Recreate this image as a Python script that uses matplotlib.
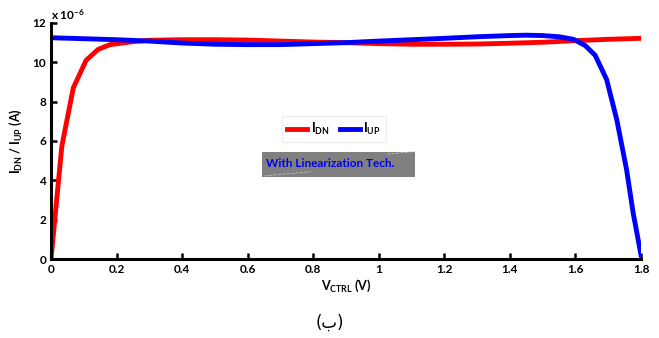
import matplotlib
matplotlib.use("Agg")
import matplotlib.pyplot as plt
from matplotlib.patches import Rectangle

plt.rcParams['font.family'] = ['Lato', 'DejaVu Sans']
plt.rcParams['font.weight'] = 'bold'
plt.rcParams['mathtext.fontset'] = 'custom'
plt.rcParams['mathtext.rm'] = 'Lato:weight=bold'
plt.rcParams['mathtext.it'] = 'Lato:weight=bold'
plt.rcParams['mathtext.bf'] = 'Lato:weight=bold'

# data (units of 1e-6 A)
v_dn = [0.0, 0.033, 0.068, 0.107, 0.144, 0.18, 0.25, 0.3, 0.4, 0.5, 0.6, 0.7, 0.8, 0.9,
        1.0, 1.1, 1.2, 1.3, 1.4, 1.5, 1.6, 1.7, 1.8]
i_dn = [0.0, 5.73, 8.7, 10.1, 10.66, 10.9, 11.05, 11.12, 11.15, 11.15, 11.13, 11.08, 11.03, 11.0,
        10.95, 10.92, 10.92, 10.93, 10.97, 11.02, 11.1, 11.17, 11.22]
v_up = [0.0, 0.1, 0.2, 0.3, 0.4, 0.5, 0.6, 0.7, 0.8, 0.9, 1.0, 1.1, 1.2, 1.3, 1.4, 1.45,
        1.5, 1.55, 1.594, 1.63, 1.66, 1.695, 1.726, 1.756, 1.776, 1.8]
i_up = [11.25, 11.2, 11.15, 11.08, 10.98, 10.92, 10.9, 10.9, 10.95, 11.0, 11.08, 11.15, 11.22,
        11.3, 11.36, 11.38, 11.36, 11.3, 11.17, 10.85, 10.36, 9.13, 7.09, 4.54, 2.35, 0.2]
xticks = [0, 0.2, 0.4, 0.6, 0.8, 1, 1.2, 1.4, 1.6, 1.8]
xticklabels = ['0', '0.2', '0.4', '0.6', '0.8', '1', '1.2', '1.4', '1.6', '1.8']
yticks = [0, 2, 4, 6, 8, 10, 12]

fig = plt.figure(figsize=(6.59, 3.38), dpi=100)
ax = fig.add_axes([0.0774, 0.2337, 0.8953, 0.6983])

ax.plot(v_dn, i_dn, color='red', lw=3.5, label=r'$\mathbf{I_{DN}}$')
ax.plot(v_up, i_up, color='blue', lw=3.5, label=r'$\mathbf{I_{UP}}$')

ax.set_xlim(0, 1.8)
ax.set_ylim(0, 12)
ax.set_xticks(xticks)
ax.set_xticklabels(xticklabels)
ax.set_yticks(yticks)
for s in ['top', 'right']:
    ax.spines[s].set_visible(False)
for s in ['left', 'bottom']:
    ax.spines[s].set_linewidth(2.2)
ax.tick_params(direction='in', width=1.8, length=4, labelsize=8.5)
for t in ax.get_xticklabels() + ax.get_yticklabels():
    t.set_fontweight('bold')

ax.set_xlabel(r'$\mathbf{V_{CTRL}}$ (V)', fontsize=9, fontweight='bold', labelpad=2)
ax.set_ylabel(r'$\mathbf{I_{DN}}$ / $\mathbf{I_{UP}}$ (A)', fontsize=9, fontweight='bold', labelpad=6)

ax.text(0.0, 1.005, r'x 10$^{\mathbf{-6}}$', transform=ax.transAxes, fontsize=8.5,
        ha='left', va='bottom')

leg = ax.legend(loc='center', bbox_to_anchor=(0.48, 0.55), ncol=2, fontsize=9,
                handlelength=1.6, handletextpad=0.3, columnspacing=0.8,
                fancybox=False, framealpha=1, edgecolor='#eeeeee', borderpad=0.4)

# annotation box
ax.add_patch(Rectangle((0.3576, 0.349), 0.2594, 0.106, transform=ax.transAxes,
                       facecolor='#808080', edgecolor='none', zorder=3))
ax.plot([0.362, 0.44], [0.352, 0.37], transform=ax.transAxes, color='#c0c0c0',
        lw=0.6, ls='--', zorder=4)
ax.plot([0.57, 0.617], [0.445, 0.455], transform=ax.transAxes, color='#c0c0c0',
        lw=0.6, ls='--', zorder=4)
ax.text(0.364, 0.405, 'With Linearization Tech.', transform=ax.transAxes, color='blue',
        fontsize=8.5, fontweight='bold', ha='left', va='center', zorder=5)

fig.text(0.5, 0.044, '(ب)', fontsize=12, fontweight='normal', ha='center', va='center',
         family=['DejaVu Sans'])

fig.savefig('out.png', dpi=100)
